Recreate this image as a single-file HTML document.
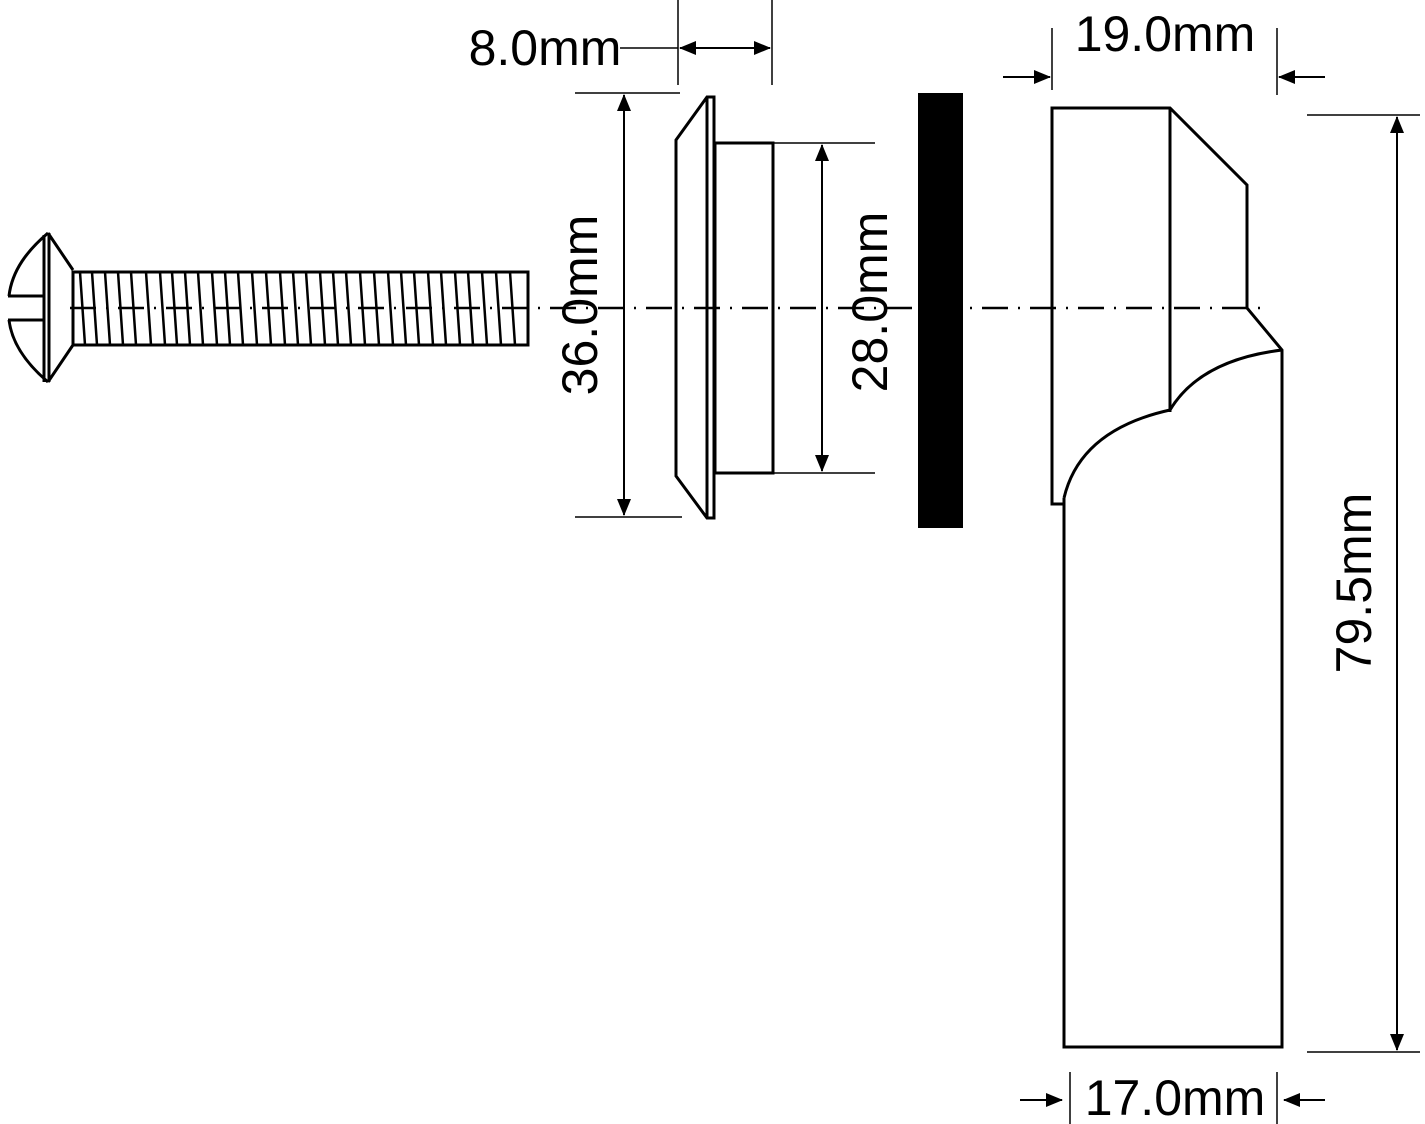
<!DOCTYPE html>
<html><head><style>body{margin:0;background:#fff}svg{display:block}text{font-family:"Liberation Sans",sans-serif;font-size:50px;fill:#000}</style></head><body>
<svg width="1425" height="1124" viewBox="0 0 1425 1124" xmlns="http://www.w3.org/2000/svg">
<g stroke="#000" stroke-width="3" fill="none">
<!-- screw -->
<path d="M48,233 C28,250 12,270 9,296 M9,320 C12,345 28,365 48,382"/>
<path d="M8,296H44M8,320H44"/>
<path d="M44,235V382M49,233V382"/>
<path d="M48,233L73,270M48,382L73,345"/>
<rect x="73" y="272" width="455" height="73"/>
<g stroke-width="2.5">
<path d="M80,272l5,73M92,272l5,73M105,272l5,73M118,272l5,73M131,272l5,73M146,272l5,73M160,272l5,73M172,272l5,73M185,272l5,73M198,272l5,73M212,272l5,73M225,272l5,73M238,272l5,73M252,272l5,73M266,272l5,73M280,272l5,73M293,272l5,73M306,272l5,73M320,272l5,73M333,272l5,73M346,272l5,73M360,272l5,73M374,272l5,73M388,272l5,73M401,272l5,73M414,272l5,73M428,272l5,73M441,272l5,73M455,272l5,73M468,272l5,73M482,272l5,73M496,272l5,73M510,272l5,73"/>
</g>
<!-- escutcheon -->
<path d="M676,140L707,97H714V518H707L676,476Z"/>
<path d="M707,97V518"/>
<rect x="715" y="143" width="58" height="330"/>
<!-- lever -->
<path d="M1064,498V504H1052V108H1170L1247,185V308L1282,350V1047H1064V498"/>
<path d="M1170,108V412"/>
<path d="M1064,498Q1080,430 1170,410Q1200,360 1282,350"/>
<!-- centerline -->
<path d="M70,308H1262" stroke-width="2.5" stroke-dasharray="26,10,2,10"/>
<!-- dims -->
<g stroke-width="1.5">
<path d="M678,0V85M772,0V85M620,48H678"/>
<path d="M575,93H680M575,517H682M774,143H875M774,473H875"/>
<path d="M1052,28V90M1277,28V95M1307,115H1420M1307,1052H1420M1070,1072V1124M1277,1072V1124"/>
</g>
<g stroke-width="2">
<path d="M680,48H770M624,95V515M822,145V471M1397,117V1050M1003,77H1050M1325,77H1279M1020,1100H1062M1325,1100H1284"/>
</g>
</g>
<g fill="#000">
<polygon points="679,48 696,41 696,55"/><polygon points="771,48 754,41 754,55"/>
<polygon points="624,94 617,111 631,111"/><polygon points="624,516 617,499 631,499"/>
<polygon points="822,144 815,161 829,161"/><polygon points="822,472 815,455 829,455"/>
<polygon points="1397,116 1390,133 1404,133"/><polygon points="1397,1051 1390,1034 1404,1034"/>
<polygon points="1051,77 1034,70 1034,84"/><polygon points="1278,77 1295,70 1295,84"/>
<polygon points="1063,1100 1046,1093 1046,1107"/><polygon points="1283,1100 1300,1093 1300,1107"/>
</g>
<rect x="918" y="93" width="45" height="435" fill="#000"/>
<text x="545" y="65" text-anchor="middle">8.0mm</text>
<text x="1165" y="51" text-anchor="middle">19.0mm</text>
<text x="1175" y="1115" text-anchor="middle">17.0mm</text>
<text transform="translate(597,305) rotate(-90)" text-anchor="middle">36.0mm</text>
<text transform="translate(887,302) rotate(-90)" text-anchor="middle">28.0mm</text>
<text transform="translate(1371,583) rotate(-90)" text-anchor="middle">79.5mm</text>
</svg>
</body></html>
